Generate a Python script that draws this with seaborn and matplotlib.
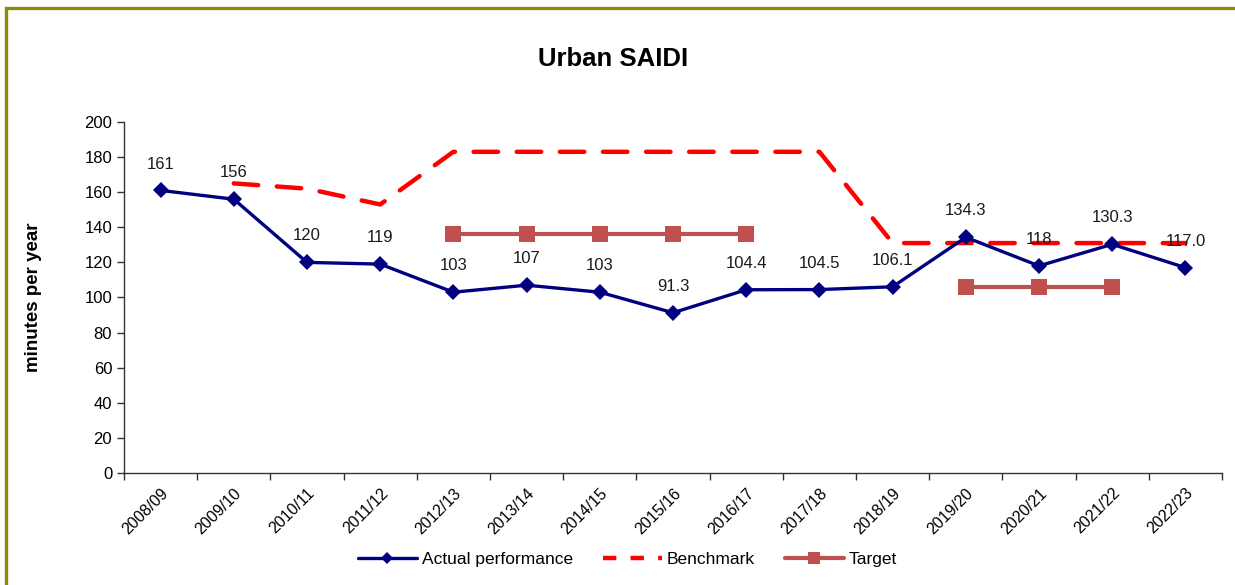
import numpy as np
import pandas as pd
import seaborn as sns
import matplotlib
matplotlib.use('Agg')
import matplotlib.pyplot as plt
from matplotlib.lines import Line2D
from matplotlib.patches import Rectangle

years = ['2008/09', '2009/10', '2010/11', '2011/12', '2012/13', '2013/14', '2014/15', '2015/16',
         '2016/17', '2017/18', '2018/19', '2019/20', '2020/21', '2021/22', '2022/23']
actual = [161, 156, 120, 119, 103, 107, 103, 91.3, 104.4, 104.5, 106.1, 134.3, 118, 130.3, 117.0]
actual_labels = ['161', '156', '120', '119', '103', '107', '103', '91.3', '104.4', '104.5',
                 '106.1', '134.3', '118', '130.3', '117.0']
benchmark = [np.nan, 165, 162, 153, 183, 183, 183, 183, 183, 183, 131, 131, 131, 131, 131]
target_a = [np.nan] * 4 + [136] * 5 + [np.nan] * 6
target_b = [np.nan] * 11 + [106] * 3 + [np.nan]

df = pd.DataFrame({'year': years, 'pos': range(len(years)), 'actual': actual,
                   'benchmark': benchmark, 'target_a': target_a, 'target_b': target_b})

sns.set_style('ticks')
plt.rcParams['font.family'] = ['Liberation Sans', 'DejaVu Sans']
plt.rcParams['text.color'] = 'black'
plt.rcParams['xtick.color'] = 'black'
plt.rcParams['ytick.color'] = 'black'
plt.rcParams['axes.labelcolor'] = 'black'

navy = '#000080'
red = '#FF0000'
tcol = '#C0504D'

fig = plt.figure(figsize=(12.35, 5.85), dpi=100)
ax = fig.add_axes([0.1004, 0.1915, 0.8891, 0.6000])

sns.lineplot(data=df.dropna(subset=['benchmark']), x='pos', y='benchmark', ax=ax, color=red,
             lw=3.2, ls=(0, (5.5, 4.2)), dash_capstyle='round')
for col in ['target_a', 'target_b']:
    sns.lineplot(data=df.dropna(subset=[col]), x='pos', y=col, ax=ax, color=tcol, lw=3,
                 marker='s', markersize=11, markeredgewidth=0)
sns.lineplot(data=df, x='pos', y='actual', ax=ax, color=navy, lw=2.4,
             marker='D', markersize=8.5, markeredgewidth=0)

for x, y, s in zip(df['pos'], df['actual'], actual_labels):
    ax.annotate(s, (x, y), xytext=(0, 19), textcoords='offset points',
                ha='center', va='center', fontsize=12, color='#1a1a1a')

ax.set_xlim(-0.5, len(years) - 0.5)
ax.set_ylim(0, 200)
ax.set_yticks(range(0, 201, 20))
ax.set_xticks(range(len(years)))
ax.set_xticklabels(years, rotation=45, ha='right', rotation_mode='anchor', fontsize=11.5)
ax.set_xticks(np.arange(-0.5, len(years)), minor=True)
ax.tick_params(axis='x', which='major', length=0, pad=9)
ax.tick_params(axis='x', which='minor', length=5, width=1, color='#333333')
ax.tick_params(axis='y', length=5, width=1, color='#333333', labelsize=12)
for sp in ['left', 'bottom']:
    ax.spines[sp].set_color('#333333')
    ax.spines[sp].set_linewidth(1)
sns.despine(ax=ax)

ax.set_xlabel(None)
ax.set_ylabel('minutes per year', fontsize=13.5, fontweight='bold')
ax.yaxis.set_label_coords(-0.0747, 0.5)
fig.text(0.4965, 0.9, 'Urban SAIDI', ha='center', va='center', fontsize=18.5, fontweight='bold')

handles = [
    Line2D([], [], color=navy, lw=2.4, marker='D', markersize=6, markeredgewidth=0),
    Line2D([], [], color=red, lw=3.2, ls=(0, (3, 3.2))),
    Line2D([], [], color=tcol, lw=3, marker='s', markersize=9, markeredgewidth=0),
]
fig.legend(handles, ['Actual performance', 'Benchmark', 'Target'], loc='center',
           bbox_to_anchor=(0.508, 0.043), ncol=3, frameon=False, fontsize=12.5,
           handlelength=3.4, columnspacing=1.7, handletextpad=0.3)

fig.patches.append(Rectangle((5.5 / 1235, -0.2), 1.2, 1.2 - 7.5 / 585, transform=fig.transFigure,
                             fill=False, ec='#8B8B0A', lw=2.4))

fig.savefig('out.png', dpi=100)
